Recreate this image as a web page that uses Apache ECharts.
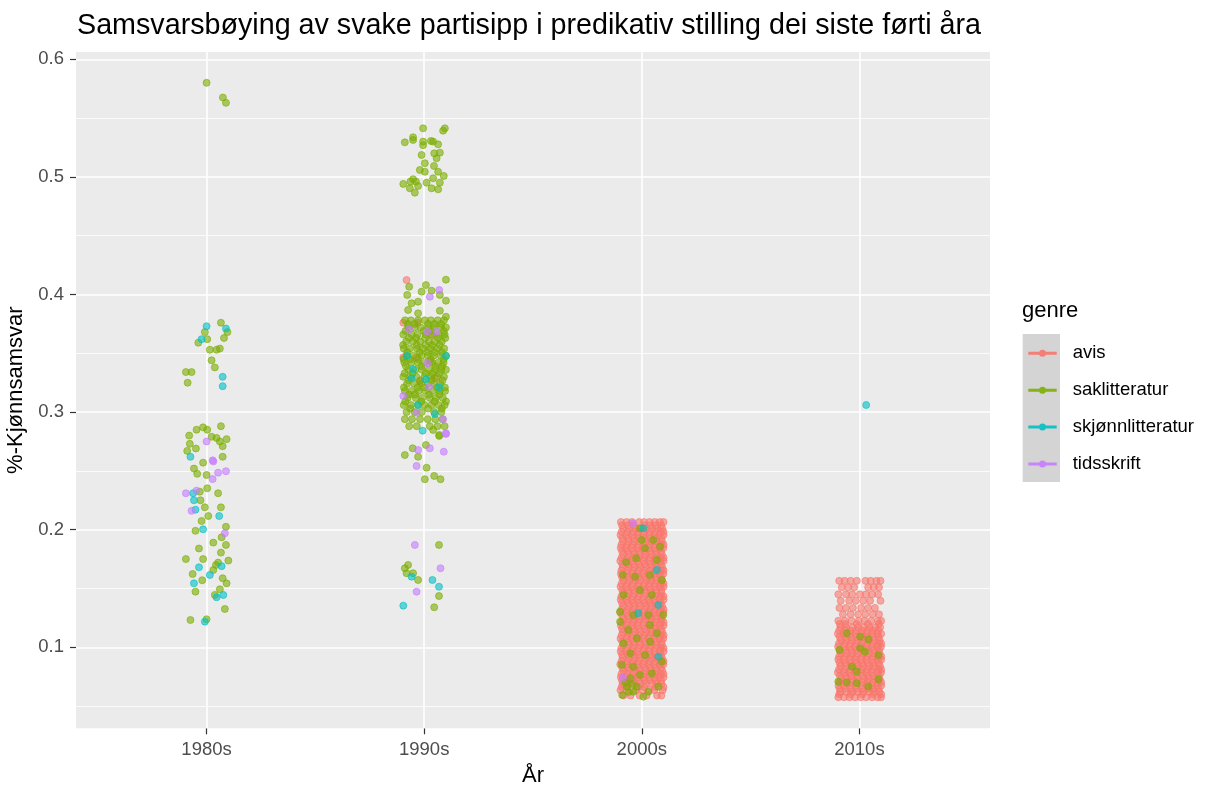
<!DOCTYPE html>
<html><head><meta charset="utf-8">
<script src="https://cdn.jsdelivr.net/npm/echarts@6/dist/echarts.min.js"></script>
<style>html,body{margin:0;padding:0;background:#fff}#c{width:1212px;height:787px}</style>
</head><body><div id="c"></div><script>
// ---------- categories / ticks ----------
const categories = ['1980s', '1990s', '2000s', '2010s'];
const genres = ['avis', 'saklitteratur', 'skjønnlitteratur', 'tidsskrift'];
const genreColors = ['#F8766D', '#7CAE00', '#00BFC4', '#C77CFF'];
const yMajorTicks = [0.1, 0.2, 0.3, 0.4, 0.5, 0.6];
const yMinorTicks = [0.05, 0.15, 0.25, 0.35, 0.45, 0.55];

// ---------- jittered points: [jitter offset from category centre, value] ----------
// 1980s
const sak1980 = [[0,.580],[.075,.5675],[.089,.563],
 [.066,.376],[.096,.368],[-.008,.368],[.003,.362],[-.038,.359],[.080,.363],[.015,.353],[.046,.353],[.061,.354],[.023,.344],[.038,.338],[-.095,.334],[-.069,.334],[-.087,.325],
 [.066,.288],[-.046,.285],[-.016,.287],[.003,.285],[-.080,.280],[.023,.279],[.046,.278],[.061,.275],[.092,.277],[-.077,.273],[-.089,.267],[-.049,.269],[.074,.271],[.074,.262],
 [-.016,.257],[-.058,.252],[-.043,.2475],[0,.2465],[-.031,.2323],[.003,.2352],[.053,.231],[-.028,.225],[-.008,.219],[.066,.219],[.008,.2116],[-.023,.2074],[.089,.2025],[-.051,.199],[.069,.1935],[.089,.187],[.031,.189],[-.035,.184],[-.095,.175],[-.016,.175],[.066,.1805],[.1,.1737],[.053,.172],[.043,.170],[.031,.1657],[-.064,.1623],[-.02,.157],[.074,.1587],[.092,.1544],[-.051,.1473],[.061,.1493],[.038,.1445],[.084,.1326],[-.074,.1232],[0,.1238]];
const skj1980 = [[0,.373],[.089,.371],[-.023,.362],[.074,.330],[.074,.322],[-.074,.262],[-.058,.225],[-.062,.231],[-.051,.217],[.058,.2116],[-.016,.2003],[-.035,.168],[.069,.169],[.015,.1615],[-.058,.1544],[.046,.1425],[.077,.1445],[-.008,.1218]];
const tids1980 = [[0,.275],[.028,.259],[.031,.258],[.053,.2485],[.089,.2497],[.028,.243],[-.095,.231],[-.046,.2332],[-.069,.216],[.084,.197]];

// 1990s
const sak1990 = [[-.005,.5413],[.095,.5413],[.087,.5393],[-.051,.5337],[-.089,.5294],[-.051,.5314],[-.005,.530],[-.005,.527],[.031,.5305],[.041,.530],[.064,.5277],[-.012,.5186],[.046,.520],[.072,.5206],[.057,.5158],[.003,.5116],[.045,.5093],[-.02,.5059],[.003,.5044],[.064,.5044],[.09,.5008],[.041,.4988],[-.051,.498],[-.063,.496],[-.038,.496],[-.096,.494],[-.028,.4923],[.011,.4951],[.072,.4951],[.034,.4903],[-.066,.4903],[.064,.4894],[-.043,.4866],
 [.1,.4126],[-.069,.4066],[.008,.408],[-.012,.4024],[.034,.4032],[.072,.3996],[.1,.3947],[-.078,.3996],[-.058,.3925],[-.028,.3939],[-.074,.3868],[-.028,.384],[.072,.3862],[.1,.3811],
 [.041,.2848],[.069,.2797],[.069,.2805],[.008,.272],[-.053,.2692],[-.089,.2635],[-.028,.262],[.011,.2527],[.046,.2457],[.075,.2429],[.003,.2429],
 [.068,.187],[-.074,.170],[-.089,.1672],[-.081,.163],[-.051,.163],[-.028,.1572],[.068,.1436],[.046,.134]];
// dense block rows: [value, offsets...]
const sak1990Rows = [
 [.378,-.088,-.061,-.028,.003,.031,.062,.091],
 [.375,-.075,-.044,.017,.047,.078],
 [.372,-.074,-.043,-.016,.017,.046,.077,.1],
 [.369,-.086,-.002,.031,.09],
 [.366,-.096,-.058,-.031,.006,.034,.066,.094],
 [.363,-.07,-.037,.004,.064,.097],
 [.360,-.083,-.052,-.019,.021,.049,.081],
 [.357,-.097,-.034,.005,.036,.071],
 [.354,-.094,-.066,-.033,-.004,.029,.061,.092],
 [.351,-.078,-.02,.014,.047,.081],
 [.348,-.081,-.049,-.013,.016,.044,.076,.1],
 [.345,-.095,-.064,-.028,.03,.09],
 [.342,-.091,-.059,-.029,.002,.036,.064,.089],
 [.339,-.084,-.012,.051,.082],
 [.336,-.073,-.041,-.011,.021,.051,.079,.1],
 [.333,-.09,-.053,.007,.038,.069],
 [.330,-.096,-.064,-.036,.001,.031,.059,.091],
 [.327,-.072,-.018,.034,.084],
 [.324,-.079,-.046,-.014,.016,.046,.074],
 [.321,-.093,-.03,.002,.059,.095],
 [.318,-.089,-.059,-.026,.006,.039,.071,.096],
 [.315,-.07,-.042,.022,.07],
 [.312,-.076,-.039,-.009,.026,.054,.086],
 [.309,-.087,-.013,.048,.1],
 [.306,-.094,-.061,-.029,.001,.034,.066,.094],
 [.303,-.064,.018,.081],
 [.300,-.081,-.044,-.011,.046,.079],
 [.294,-.089,-.056,-.019,.016,.051,.084],
 [.288,-.069,-.034,.026,.061,.094]];
const avis1990 = [[-.081,.4123],[-.096,.376],[-.03,.376],[.034,.3656],[-.096,.3466],[-.035,.3466],[.026,.3429],[.049,.3287],[-.02,.3259]];
const skj1990 = [[-.078,.3477],[.1,.3477],[-.051,.3364],[-.058,.3287],[.008,.3279],[.069,.3211],[-.028,.306],[.049,.2984],[-.007,.2842],[-.058,.160],[.038,.1572],[.068,.1515],[-.096,.1354]];
const tids1990 = [[.069,.4038],[.026,.3981],[-.069,.3704],[.014,.3684],[.057,.3684],[.014,.3415],[.023,.3216],[-.096,.3137],[-.035,.2995],[.087,.2939],[.1,.282],[.1,.2814],[-.028,.2678],[.026,.2692],[.09,.2663],[-.035,.2542],[-.043,.187],[.075,.1672],[-.035,.1473]];

// 2000s
const avis2000Rows = [
 [.2065,-.096,-.070,-.045,-.012,.010,.036,.060,.083,.1],
 [.2037,-.091,-.064,-.038,.013,.039,.064,.089],
 [.2010,-.085,-.058,-.030,-.004,.022,.047,.072,.094],
 [.1982,-.093,-.066,-.040,-.015,.011,.037,.062,.087,.1],
 [.1955,-.098,-.071,-.044,-.018,.008,.034,.058,.082,.1],
 [.1927,-.090,-.063,-.037,-.012,.014,.040,.065,.090],
 [.1900,-.087,-.060,-.034,-.007,.020,.045,.070,.093],
 [.1872,-.094,-.067,-.041,-.016,.010,.036,.061,.086,.1],
 [.1845,-.097,-.073,-.047,-.020,.006,.031,.057,.081,.099],
 [.1817,-.091,-.065,-.039,-.013,.013,.038,.063,.088],
 [.1790,-.086,-.061,-.032,-.009,.018,.044,.068,.092],
 [.1762,-.093,-.066,-.040,-.014,.012,.037,.062,.087,.1],
 [.1735,-.099,-.072,-.046,-.019,.007,.033,.059,.084,.1],
 [.1707,-.090,-.064,-.038,-.012,.014,.039,.064,.089],
 [.1680,-.088,-.060,-.035,-.006,.019,.046,.070,.094],
 [.1652,-.094,-.067,-.041,-.015,.011,.036,.061,.087,.1],
 [.1625,-.096,-.070,-.044,-.021,.005,.030,.056,.080,.099],
 [.1597,-.091,-.065,-.039,-.013,.013,.038,.064,.089],
 [.1570,-.085,-.059,-.031,-.008,.021,.044,.069,.092],
 [.1542,-.093,-.066,-.040,-.014,.012,.037,.062,.087,.1],
 [.1515,-.098,-.073,-.047,-.018,.008,.032,.058,.083,.1],
 [.1487,-.090,-.064,-.038,-.012,.014,.040,.065,.090],
 [.1460,-.087,-.062,-.034,-.010,.017,.043,.067,.091],
 [.1432,-.094,-.067,-.041,-.015,.011,.036,.062,.087,.1],
 [.1405,-.097,-.070,-.045,-.020,.006,.031,.057,.082,.1],
 [.1377,-.091,-.065,-.039,-.013,.013,.038,.063,.088],
 [.1350,-.086,-.058,-.033,-.007,.020,.045,.071,.093],
 [.1322,-.093,-.066,-.040,-.014,.012,.037,.062,.087,.1],
 [.1295,-.099,-.072,-.046,-.019,.004,.030,.055,.080,.099],
 [.1267,-.090,-.064,-.038,-.012,.014,.039,.064,.089],
 [.1240,-.085,-.060,-.035,-.009,.018,.043,.068,.092],
 [.1212,-.094,-.067,-.041,-.015,.011,.036,.061,.087,.1],
 [.1185,-.096,-.071,-.044,-.021,.007,.033,.059,.084,.1],
 [.1157,-.091,-.065,-.039,-.013,.013,.038,.064,.089],
 [.1130,-.087,-.061,-.032,-.006,.020,.046,.070,.094],
 [.1102,-.093,-.066,-.040,-.014,.012,.037,.062,.087,.1],
 [.1075,-.098,-.070,-.047,-.018,.005,.031,.056,.081,.099],
 [.1047,-.090,-.064,-.038,-.012,.014,.040,.065,.090],
 [.1020,-.086,-.059,-.034,-.008,.019,.044,.069,.093],
 [.0992,-.094,-.067,-.041,-.015,.011,.036,.062,.087,.1],
 [.0965,-.097,-.073,-.045,-.020,.008,.032,.058,.083,.1],
 [.0937,-.091,-.065,-.039,-.013,.013,.038,.063,.088],
 [.0910,-.088,-.060,-.033,-.007,.021,.045,.070,.092],
 [.0882,-.093,-.066,-.040,-.014,.012,.037,.062,.087,.1],
 [.0855,-.099,-.071,-.046,-.019,.006,.030,.057,.082,.099],
 [.0827,-.090,-.064,-.038,-.012,.014,.039,.064,.089],
 [.0800,-.085,-.058,-.031,-.009,.018,.043,.067,.094],
 [.0772,-.094,-.067,-.041,-.015,.011,.036,.061,.087,.1],
 [.0745,-.096,-.072,-.044,-.020,.007,.034,.059,.080,.1],
 [.0717,-.091,-.065,-.039,-.013,.013,.038,.064,.089],
 [.0690,-.087,-.061,-.035,-.006,.020,.047,.071,.091],
 [.0662,-.093,-.066,-.014,.012,.062,.1],
 [.0635,-.098,-.070,-.028,.004,.033,.058,.096],
 [.0590,-.084,-.052,-.010,.022,.070,.090]];
const sak2000 = [[-.008,.2012],[0,.1913],[.053,.1913],[.015,.1842],[.084,.1856],[-.072,.1723],[-.026,.1757],[.069,.1743],[-.031,.16],[.038,.1615],[.092,.1572],[-.087,.1615],[-.008,.1487],[.046,.1445],[-.084,.1445],[-.1,.1303],[-.039,.1275],[.03,.1275],[.099,.1275],[.038,.119],[-.1,.1218],[-.062,.1147],[.069,.1119],[-.023,.1076],[.038,.1048],[-.084,.1034],[-.053,.0949],[.015,.0934],[.092,.0878],[-.092,.085],[-.039,.0835],[-.008,.0764],[.046,.0778],[-.053,.0736],[-.069,.0665],[-.023,.0665],[.03,.0622],[.076,.0665],[.007,.058],[-.039,.0622],[-.075,.070],[-.06,.062],[-.045,.0685],[-.09,.0595]];
const skj2000 = [[.069,.1657],[-.016,.1289],[.076,.092],[.007,.2012],[.076,.136]];
const tids2000 = [[-.041,.2054],[-.087,.0741]];

// 2010s
const avis2010Rows = [
 [.1565,-.093,-.068,-.040,-.012,.028,.052,.078,.097],
 [.1510,-.081,-.052,-.024,.040,.066,.090],
 [.1450,-.097,-.062,-.033,.002,.030,.058,.086],
 [.1395,-.086,-.047,-.016,.018,.049,.097],
 [.1335,-.092,-.062,-.030,.008,.040,.071],
 [.1280,-.076,-.041,-.006,.027,.061,.090],
 [.1225,-.097,-.066,-.036,-.003,.023,.054,.085,.1],
 [.1197,-.090,-.064,-.012,.039,.089],
 [.1170,-.087,-.060,-.031,-.005,.020,.047,.072,.095],
 [.1142,-.093,-.066,-.040,-.014,.012,.037,.062,.087],
 [.1115,-.099,-.072,-.045,-.018,.008,.033,.058,.083,.1],
 [.1087,-.091,-.065,-.039,-.013,.013,.038,.063,.088],
 [.1060,-.085,-.060,-.034,-.007,.019,.044,.069,.093],
 [.1032,-.094,-.067,-.041,-.015,.011,.036,.062,.087,.1],
 [.1005,-.098,-.070,-.046,-.020,.006,.031,.057,.081,.099],
 [.0977,-.090,-.064,-.038,-.012,.014,.040,.065,.090],
 [.0950,-.086,-.059,-.032,-.008,.020,.045,.070,.092],
 [.0922,-.093,-.066,-.040,-.014,.012,.037,.062,.087,.1],
 [.0895,-.097,-.072,-.045,-.019,.007,.032,.058,.083,.1],
 [.0867,-.091,-.065,-.039,-.013,.013,.038,.064,.089],
 [.0840,-.087,-.061,-.033,-.006,.018,.046,.068,.094],
 [.0812,-.094,-.067,-.041,-.015,.011,.036,.061,.087,.1],
 [.0785,-.099,-.070,-.047,-.021,.005,.030,.056,.082,.099],
 [.0757,-.090,-.064,-.038,-.012,.014,.039,.064,.089],
 [.0730,-.085,-.058,-.034,-.009,.021,.043,.071,.093],
 [.0702,-.093,-.066,-.040,-.014,.012,.037,.062,.087,.1],
 [.0675,-.096,-.073,-.044,-.018,.008,.034,.057,.080,.1],
 [.0647,-.091,-.065,-.039,-.013,.013,.038,.063,.088],
 [.0620,-.088,-.060,-.031,-.007,.020,.045,.069,.092],
 [.0600,-.093,-.040,.012,.062,.1],
 [.0575,-.097,-.071,-.046,-.020,.006,.031,.058,.083,.099]];
const sak2010 = [[-.058,.1119],[.041,.1068],[-.092,.0977],[.003,.0991],[.026,.0963],[.087,.0934],[-.012,.0793],[-.097,.0708],[-.058,.07],[-.012,.0695],[.041,.0666],[.087,.0728],[-.035,.0835],[.003,.109]];
const skj2010 = [[.031,.306]];

// ---------- build ----------
const pos = name => categories.indexOf(name) + 1;
const pts = (cat, list) => list.map(([dx, v]) => [pos(cat) + dx, v]);
const rowPts = (cat, rows) => rows.flatMap(([v, ...dxs]) => dxs.map(dx => [pos(cat) + dx, v]));

const seriesData = [
  [...pts('1990s', avis1990), ...rowPts('2000s', avis2000Rows), ...rowPts('2010s', avis2010Rows)],
  [...pts('1980s', sak1980), ...pts('1990s', sak1990), ...rowPts('1990s', sak1990Rows), ...pts('2000s', sak2000), ...pts('2010s', sak2010)],
  [...pts('1980s', skj1980), ...pts('1990s', skj1990), ...pts('2000s', skj2000), ...pts('2010s', skj2010)],
  [...pts('1980s', tids1980), ...pts('1990s', tids1990), ...pts('2000s', tids2000)]
];

const FONT = 'Liberation Sans, Arial, sans-serif';
const chart = echarts.init(document.getElementById('c'), null, {renderer: 'canvas'});
const xTickVals = categories.map((c, i) => i + 1);
// legend key: line with a point in the middle (segments do not overlap the circle)
const legendIcon = 'path://M0 2H10.9V5H0Z M17.5 2H28.4V5H17.5Z M10.7 3.5A3.5 3.5 0 0 1 17.7 3.5A3.5 3.5 0 0 1 10.7 3.5Z';

const gridLines = [
  ...yMinorTicks.map(v => ({yAxis: v, lineStyle: {color: '#ffffff', width: 0.8, type: 'solid'}})),
  ...yMajorTicks.map(v => ({yAxis: v, lineStyle: {color: '#ffffff', width: 1.6, type: 'solid'}})),
  ...xTickVals.map(v => ({xAxis: v, lineStyle: {color: '#ffffff', width: 1.6, type: 'solid'}}))
];

chart.setOption({
  animation: false,
  backgroundColor: '#ffffff',
  textStyle: {fontFamily: FONT},
  title: [
    {text: 'Samsvarsbøying av svake partisipp i predikativ stilling dei siste førti åra', left: 77, top: 12, padding: 0,
     textStyle: {fontFamily: FONT, fontSize: 28.7, fontWeight: 'normal', color: '#000000'}},
    {text: 'genre', left: 1022, top: 300, padding: 0,
     textStyle: {fontFamily: FONT, fontSize: 22, fontWeight: 'normal', color: '#000000'}}
  ],
  graphic: [{type: 'rect', left: 1022.7, top: 334, shape: {width: 37.3, height: 148}, style: {fill: '#D4D4D4'}, silent: true, z: 0}],
  legend: {
    data: genres, orient: 'vertical', left: 1028.3, top: 343.3, padding: 0,
    itemWidth: 28.4, itemHeight: 7, itemGap: 16.9, icon: legendIcon,
    itemStyle: {opacity: 0.9, borderWidth: 0},
    textStyle: {fontFamily: FONT, fontSize: 18.5, color: '#000000', lineHeight: 20, padding: [0, 0, 0, 11]},
    selectedMode: false
  },
  grid: {left: 76, right: 222, top: 52, bottom: 58.7, show: true, backgroundColor: '#EBEBEB', borderWidth: 0,
         containLabel: false, outerBoundsMode: 'none'},
  xAxis: {
    type: 'value', min: 0.4, max: 4.6,
    name: 'År', nameLocation: 'middle', nameGap: 37,
    nameTextStyle: {fontFamily: FONT, fontSize: 22, color: '#000000'},
    axisLine: {show: false},
    splitLine: {show: false},
    axisTick: {show: true, customValues: xTickVals, length: 6, lineStyle: {color: '#333333', width: 1.2}},
    axisLabel: {show: true, customValues: xTickVals, formatter: v => categories[Math.round(v) - 1] || '', color: '#4D4D4D', fontSize: 18.5, margin: 12, fontFamily: FONT}
  },
  yAxis: {
    type: 'value', min: 0.0311, max: 0.6062,
    name: '%-Kjønnsamsvar', nameLocation: 'middle', nameGap: 45, nameRotate: 90,
    nameTextStyle: {fontFamily: FONT, fontSize: 22, color: '#000000'},
    axisLine: {show: false},
    splitLine: {show: false},
    axisTick: {show: true, customValues: yMajorTicks, length: 6, lineStyle: {color: '#333333', width: 1.2}},
    axisLabel: {show: true, customValues: yMajorTicks, formatter: v => v.toFixed(1), color: '#4D4D4D', fontSize: 18.5, margin: 12, fontFamily: FONT}
  },
  series: [
    {type: 'scatter', name: '_grid', data: [], z: 1, silent: true,
     markLine: {z: 1, silent: true, symbol: 'none', animation: false, label: {show: false}, emphasis: {disabled: true}, data: gridLines}},
    ...genres.map((g, i) => ({
      type: 'scatter', name: g, data: seriesData[i], z: 10 + i,
      symbol: 'circle', symbolSize: 7,
      itemStyle: {color: genreColors[i], opacity: 0.6, borderColor: genreColors[i], borderWidth: 1},
      emphasis: {disabled: true}, silent: true
    }))
  ]
});
</script></body></html>
